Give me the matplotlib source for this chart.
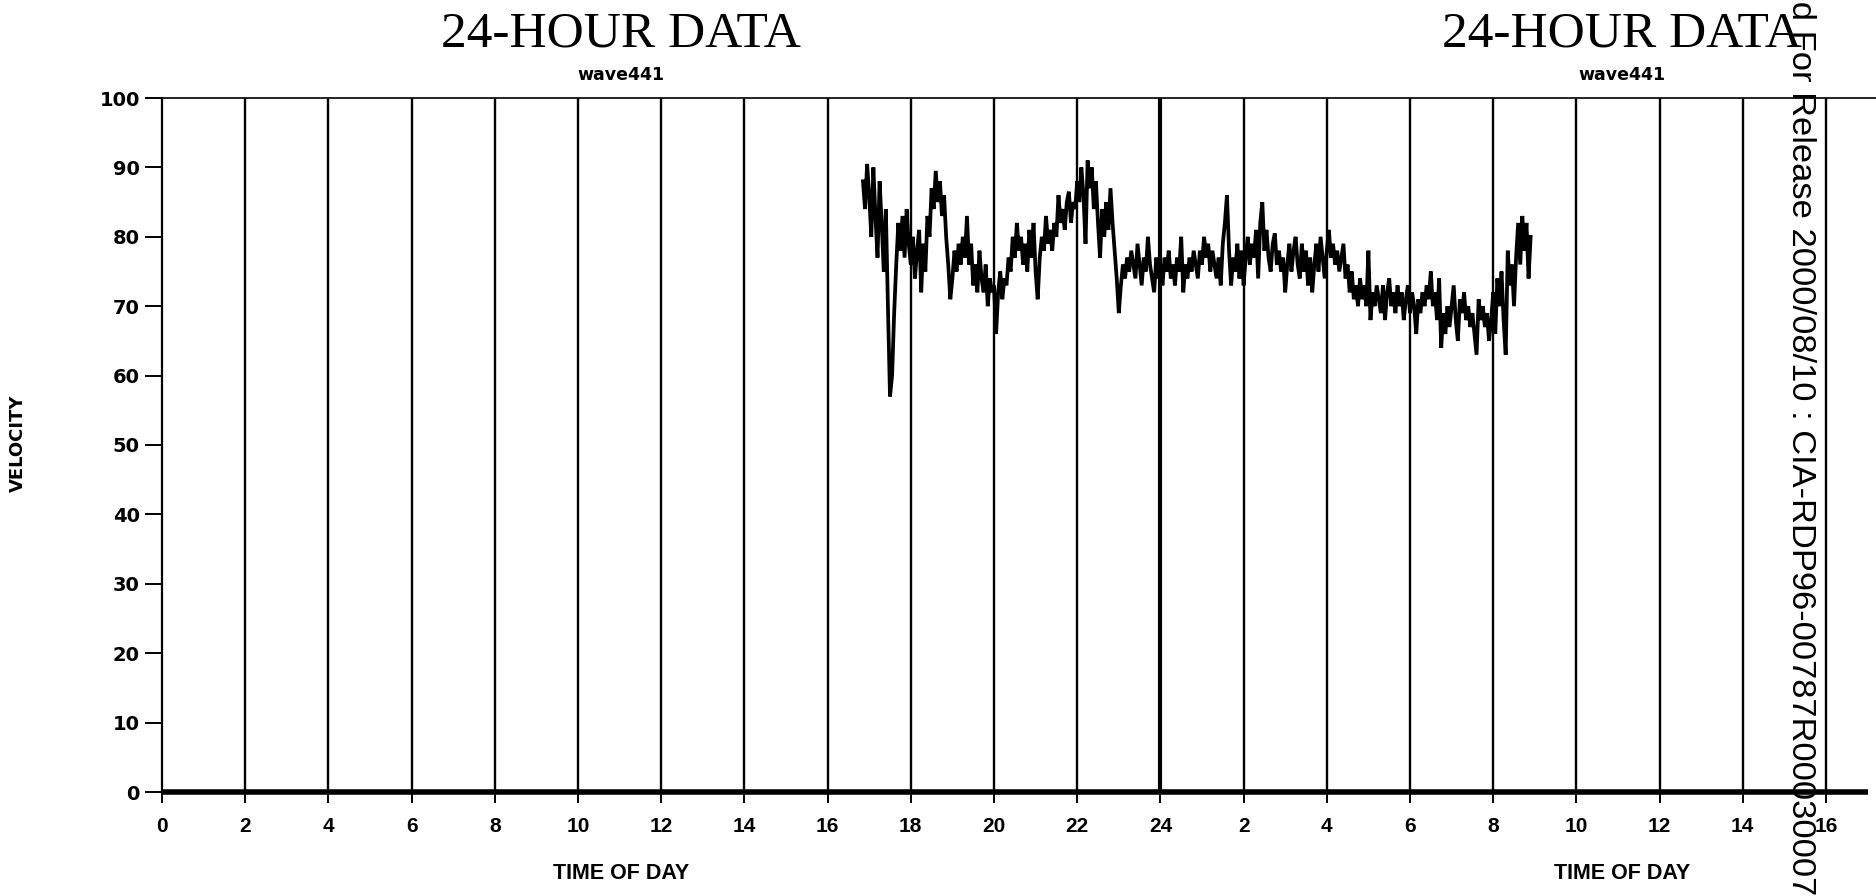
import matplotlib
matplotlib.use('Agg')
import matplotlib.pyplot as plt
import numpy as np

# ---- data -----------------------------------------------------------------
# velocity trace, sampled every 0.05 h starting at 16.85 h (hours past the
# first midnight run on past 24 into the next day)
t_start = 16.85
t_step = 0.05
velocity = [
    88, 84, 90.5,
    86, 80, 90, 83, 77, 88, 82, 75, 84, 70, 57, 60, 69, 76, 82, 78, 83, 77, 84, 79,
    76, 80, 74, 78, 81, 72, 79, 75, 83, 80, 87, 84, 89.5, 85, 88, 83, 86, 80, 76, 71,
    74, 78, 75, 79, 76, 80, 77, 83, 76, 79, 73, 76, 72, 78, 74, 72, 76, 70, 74, 72,
    73, 66, 72, 75, 71, 74, 73, 77, 75, 80, 77, 82, 78, 80, 76, 79, 75, 81, 77, 82,
    75, 71, 77, 80, 78, 83, 79, 81, 78, 82, 80, 86, 82, 84, 81, 85, 86.5, 82, 85, 84,
    88, 85, 90, 86, 79, 91, 87, 90, 84, 88, 82, 77, 84, 80, 85, 81, 87, 82, 78, 74,
    69, 73, 76, 74, 77, 75, 78, 76, 74, 79, 76, 73, 77, 75, 80, 76, 74, 72, 77, 74,
    76, 73, 77, 75, 78, 74, 76, 73, 77, 75, 80, 72, 76, 74, 77, 75, 78, 76, 74, 78,
    76, 80, 77, 79, 75, 78, 76, 74, 77, 73, 79, 82, 86, 78, 73, 77, 75, 79, 74, 78,
    73, 77, 80, 76, 79, 77, 81, 74, 82, 85, 78, 81, 77, 75, 79, 80.5, 76, 78, 75, 77,
    72, 76, 79, 75, 78, 80, 76, 74, 79, 75, 78, 73, 77, 72, 76, 79, 75, 80, 77, 74,
    78, 81, 77, 79, 76, 78, 75, 77, 79, 74, 76, 72, 75, 71, 73, 70, 74, 71, 73, 70,
    78, 68, 72, 70, 73, 71, 69, 73, 68, 72, 74, 70, 72, 69, 73, 70, 72, 68, 71, 73,
    69, 72, 70, 66, 71, 69, 72, 70, 73, 71, 75, 70, 72, 68, 74, 64, 69, 66, 70, 67,
    70, 73, 68, 65, 71, 69, 72, 68, 70, 67, 69, 66, 63, 71, 68, 70, 67, 69, 65, 68,
    72, 66, 74, 70, 75, 68, 63, 78, 73, 76, 70, 77, 82, 76, 83, 78, 82, 74, 80,
]
hours = t_start + t_step * np.arange(len(velocity))

x_ticks = list(range(0, 42, 2))
x_ticklabels = ['0', '2', '4', '6', '8', '10', '12', '14', '16', '18', '20', '22',
                '24', '2', '4', '6', '8', '10', '12', '14', '16']
y_ticks = list(range(0, 101, 10))

title_txt = '24-HOUR DATA'
sub_txt = 'wave441'
xlab_txt = 'TIME OF DAY'
ylab_txt = 'VELOCITY'
stamp_txt = 'Approved For Release 2000/08/10 : CIA-RDP96-00787R00030007'

# ---- figure ---------------------------------------------------------------
W, H = 1876, 896
fig = plt.figure(figsize=(W / 100, H / 100), dpi=100)
fig.patch.set_facecolor('white')

x0, x1, y0, y1 = 162, 1876, 98, 792
ax = fig.add_axes([x0 / W, 1 - y1 / H, (x1 - x0) / W, (y1 - y0) / H])
px_per_hr = 41.6
ax.set_xlim(0, (x1 - x0) / px_per_hr)
ax.set_ylim(0, 100)

# vertical hour lines
for h in x_ticks[1:]:
    ax.axvline(h, color='black', lw=3.0 if h == 24 else 1.7, zorder=2)

ax.plot(hours, velocity, color='black', lw=2.7, solid_joinstyle='miter', zorder=3)

ax.spines['right'].set_visible(False)
ax.spines['top'].set_linewidth(1.2)
ax.spines['left'].set_linewidth(1.6)
ax.spines['bottom'].set_linewidth(4.0)
ax.spines['bottom'].set_bounds(0, 41.0)
ax.spines['bottom'].set_capstyle('butt')

ax.set_yticks(y_ticks)
ax.set_yticklabels([str(v) for v in y_ticks], fontsize=14, fontweight='bold',
                   family='DejaVu Sans')
ax.tick_params(axis='y', direction='out', length=12, width=1.4, pad=4)

ax.set_xticks(x_ticks)
ax.set_xticklabels(x_ticklabels, fontsize=15, fontweight='bold',
                   family='Liberation Sans')
ax.tick_params(axis='x', direction='out', length=8, width=1.4, pad=10)

# titles for the two days
for cx in (621, 1622):
    fig.text(cx / W, 1 - 34 / H, title_txt, ha='center', va='center',
             fontsize=37, family='Liberation Serif')
    fig.text(cx / W, 1 - 75 / H, sub_txt, ha='center', va='center',
             fontsize=12.5, fontweight='bold', family='DejaVu Sans')
    fig.text(cx / W, 1 - 873 / H, xlab_txt, ha='center', va='center',
             fontsize=15.5, fontweight='bold', family='Liberation Sans')

fig.text(18 / W, 1 - 443 / H, ylab_txt, ha='center', va='center', rotation=90,
         fontsize=13, fontweight='bold', family='DejaVu Sans')

# release stamp along the right edge
fig.text(1800 / W, 1 + 128 / H, stamp_txt, ha='center', va='top', rotation=270,
         fontsize=24.8, family='Liberation Sans')

fig.savefig('out.png', dpi=100, facecolor='white')
